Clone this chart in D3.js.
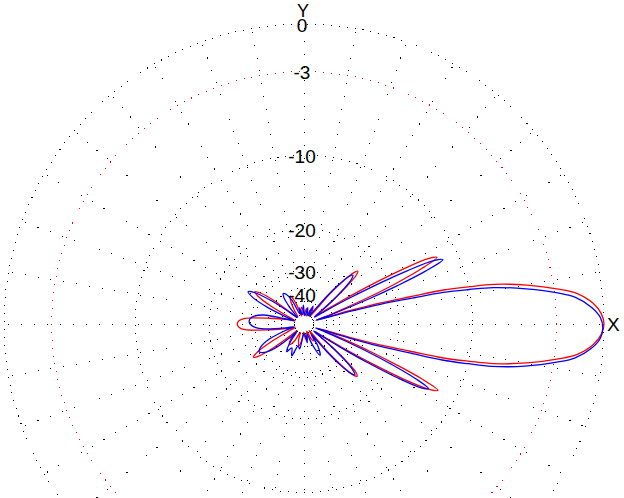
<!DOCTYPE html>
<html><head><meta charset="utf-8">
<script src="https://cdn.jsdelivr.net/npm/d3@7"></script>
<style>
html,body{margin:0;padding:0;background:#fff;}
svg{display:block;}
text{font-family:"Liberation Sans",Arial,sans-serif;}
</style></head>
<body>
<svg id="chart" width="624" height="498"></svg>
<script>
// ---- data ----
const ringLevels = [0, -3, -10, -20, -30, -40];
const ringLabels = ["0", "-3", "-10", "-20", "-30", "-40"];
const spokeAngles = [0,10,20,30,40,50,60,70,80,90,100,110,120,130,140,150,160,170,180,190,200,210,220,230,240,250,260,270,280,290,300,310,320,330,340,350];
const axisLabels = ["X", "Y"];

// [angle deg (ccw from X), level dB]
const redPattern = [
 [-180,-26.1],[-177,-26.6],[-174.5,-28.2],[-170.4,-37.6],[-165,-50],[-160,-60],
 [-155,-50],[-151.5,-36],[-149,-29.8],[-146.7,-27.8],[-144.5,-29.5],[-142,-36],[-139,-50],
 [-137,-60],[-131,-47],[-125,-43],[-119,-48],[-114,-60],[-108,-49],[-103,-45.5],[-98,-50],
 [-92,-62],[-85,-53],[-80,-51],[-75,-55],[-70,-63],[-64,-50],[-60,-47.5],[-56,-52],[-52,-62],
 [-49.5,-36],[-47.5,-28.5],[-46,-25],[-44.5,-24.2],[-43,-25],[-41.5,-28.5],[-39.5,-36],[-37,-48],
 [-35,-55],[-33,-45],[-31.6,-33],[-30.2,-23],[-29,-17],[-27.6,-13.2],[-26.3,-12.1],[-25,-14.5],
 [-23.8,-19],[-22.5,-25],[-21,-34],[-19,-45],[-17.8,-55],
 [-16.3,-32],[-15.4,-23],[-14.4,-17.5],[-13.7,-12.8],[-12.7,-9.9],[-11.8,-7.6],[-9.9,-4.9],
 [-7.7,-2.6],[-6.4,-1.55],[-4.1,-0.6],[-2,-0.15],[0,0],[2,-0.15],[4.1,-0.6],[6.4,-1.55],
 [7.7,-2.6],[9.9,-4.9],[11.8,-7.6],[12.7,-9.9],[13.7,-12.8],[14.4,-17.5],[15.4,-23],[16.3,-32],
 [17.8,-55],[19,-45],[21,-34],[22.5,-25],[23.8,-19],[25.2,-14.5],[26.6,-12.2],[27.8,-13.2],
 [29,-17],[30.2,-23],[31.6,-33],[33,-45],[35,-55],[37,-48],[39.5,-36],[41.5,-28.5],[43,-25],
 [44.5,-24],[46,-25],[47.5,-28.5],[49.5,-36],[52,-60],[57,-52],[62,-48],[67,-53],[71,-62],
 [76,-53],[80,-51],[85,-56],[89,-62],[94,-52],[98,-50],[103,-54],[107,-62],[111,-46],[116,-39.5],
 [120,-42],[125,-50],[131,-60],[136,-58],[139.5,-50],[142,-36],[144.5,-30],[146.6,-28.3],
 [149,-30],[151.5,-36],[155,-50],[160,-60],[165,-50],[170.4,-37.6],[174.5,-28.2],[177,-26.6]
];
const bluePattern = [
 [-180,-29.8],[-176,-31.5],[-173,-35],[-168,-48],[-164,-58],[-161,-48],[-156.5,-36],[-152,-31.5],
 [-148.2,-30.2],[-144.5,-31.5],[-140,-36],[-136,-48],[-133,-58],[-128,-46],[-122,-38.5],
 [-117,-42],[-111,-37.7],[-105,-45],[-100,-43],[-95,-55],[-88,-60],[-80,-48],[-74,-58],
 [-68,-45],[-63,-37.2],[-58,-42],[-55,-55],
 [-53,-50],[-50.5,-37],[-48.5,-29.5],[-46.7,-26],[-45,-24.8],[-43.3,-26],[-41.5,-29.5],[-39.5,-37],
 [-37.5,-50],[-36,-56],[-34,-46],[-32.6,-34],[-31.2,-24],[-30,-18],[-28.7,-14.3],[-27.4,-13.2],
 [-26.1,-15.3],[-24.8,-19.5],[-23.6,-25],[-22.2,-34],[-20.3,-45],[-18.8,-55],
 [-17.2,-32],[-16.3,-23],[-15.3,-17.5],[-14.6,-12.9],[-13.6,-10],[-12.7,-7.7],[-10.8,-5.0],
 [-8.5,-2.7],[-7.2,-1.65],[-4.9,-0.7],[-2.8,-0.2],[-0.8,-0.07],[1.2,-0.2],[3.3,-0.7],[5.6,-1.65],
 [6.9,-2.7],[9.0,-5.0],[10.9,-7.7],[11.8,-10],[12.8,-12.9],[13.5,-17.5],[14.5,-23],[15.4,-32],
 [17,-55],[18.2,-45],[20,-34],[21.2,-25],[22.3,-19],[23.5,-14.2],[24.8,-11.7],[26.1,-12.8],
 [27.3,-16.5],[28.5,-22.5],[30,-32],[31.5,-45],[33.5,-55],
 [36,-48],[39,-37],[41.5,-30],[43.3,-26.5],[45,-25.5],[46.7,-26.5],[48.5,-30],[50.5,-37],[53,-50],
 [57,-60],[63,-47],[69,-60],[77,-50],[84,-62],[92,-48],[99,-60],[106,-50],[112,-58],
 [117,-42],[121,-37.5],[124,-36.4],[127,-38],[131,-46],[136,-60],
 [141,-48],[144.5,-35],[147.5,-28.5],[150,-26.7],[152.5,-28.5],[155.5,-35],[158.5,-48],[162,-58],
 [165,-46],[167.3,-34.6],[171,-31],[174,-29.8],[177,-29.5]
];

// ---- layout ----
const cx = 304, cy = 324, R = 300;
const svg = d3.select("#chart");
const g = svg.append("g").attr("transform", `translate(${cx},${cy})`);

// radius proportional to sqrt of field amplitude
const amp = d3.scaleSqrt().domain([0, 1]).range([0, R]);
const rOf = db => amp(Math.pow(10, db / 20));

// spokes
g.selectAll("line.spoke").data(spokeAngles).join("line")
  .attr("class", "spoke")
  .attr("x1", a => rOf(-60) * Math.cos(a * Math.PI / 180))
  .attr("y1", a => -rOf(-60) * Math.sin(a * Math.PI / 180))
  .attr("x2", a => R * Math.cos(a * Math.PI / 180))
  .attr("y2", a => -R * Math.sin(a * Math.PI / 180))
  .attr("stroke", "#000").attr("stroke-width", 1)
  .attr("shape-rendering", "crispEdges")
  .attr("stroke-dasharray", "1,12");

// rings
g.selectAll("circle.ring").data(ringLevels).join("circle")
  .attr("class", "ring")
  .attr("r", d => rOf(d))
  .attr("fill", "none")
  .attr("stroke", d => d === -3 ? "#ff0000" : "#000")
  .attr("stroke-width", 1)
  .attr("shape-rendering", "crispEdges")
  .attr("stroke-dasharray", "1,7");

// patterns
const line = d3.lineRadial()
  .angle(d => (90 - d[0]) * Math.PI / 180)
  .radius(d => rOf(d[1]))
  .curve(d3.curveCatmullRomClosed.alpha(0.5));

g.append("path").datum(redPattern).attr("d", line)
  .attr("fill", "none").attr("stroke", "#ff0000").attr("stroke-width", 1.3);
g.append("path").datum(bluePattern).attr("d", line)
  .attr("fill", "none").attr("stroke", "#0000ff").attr("stroke-width", 1.3);

// ring labels
g.selectAll("text.rl").data(ringLevels).join("text")
  .attr("class", "rl")
  .attr("x", -2)
  .attr("y", d => -rOf(d) + 1)
  .attr("dy", "0.36em")
  .attr("text-anchor", "middle")
  .attr("font-size", 19)
  .attr("fill", "#000")
  .text((d, i) => ringLabels[i]);

// axis labels
g.append("text").attr("x", R + 3).attr("y", 0).attr("dy", "0.36em")
  .attr("font-size", 19).attr("text-anchor", "start").text(axisLabels[0]);
g.append("text").attr("x", -1).attr("y", -R - 13).attr("dy", "0.36em")
  .attr("font-size", 18).attr("text-anchor", "middle").text(axisLabels[1]);
</script>
</body></html>
